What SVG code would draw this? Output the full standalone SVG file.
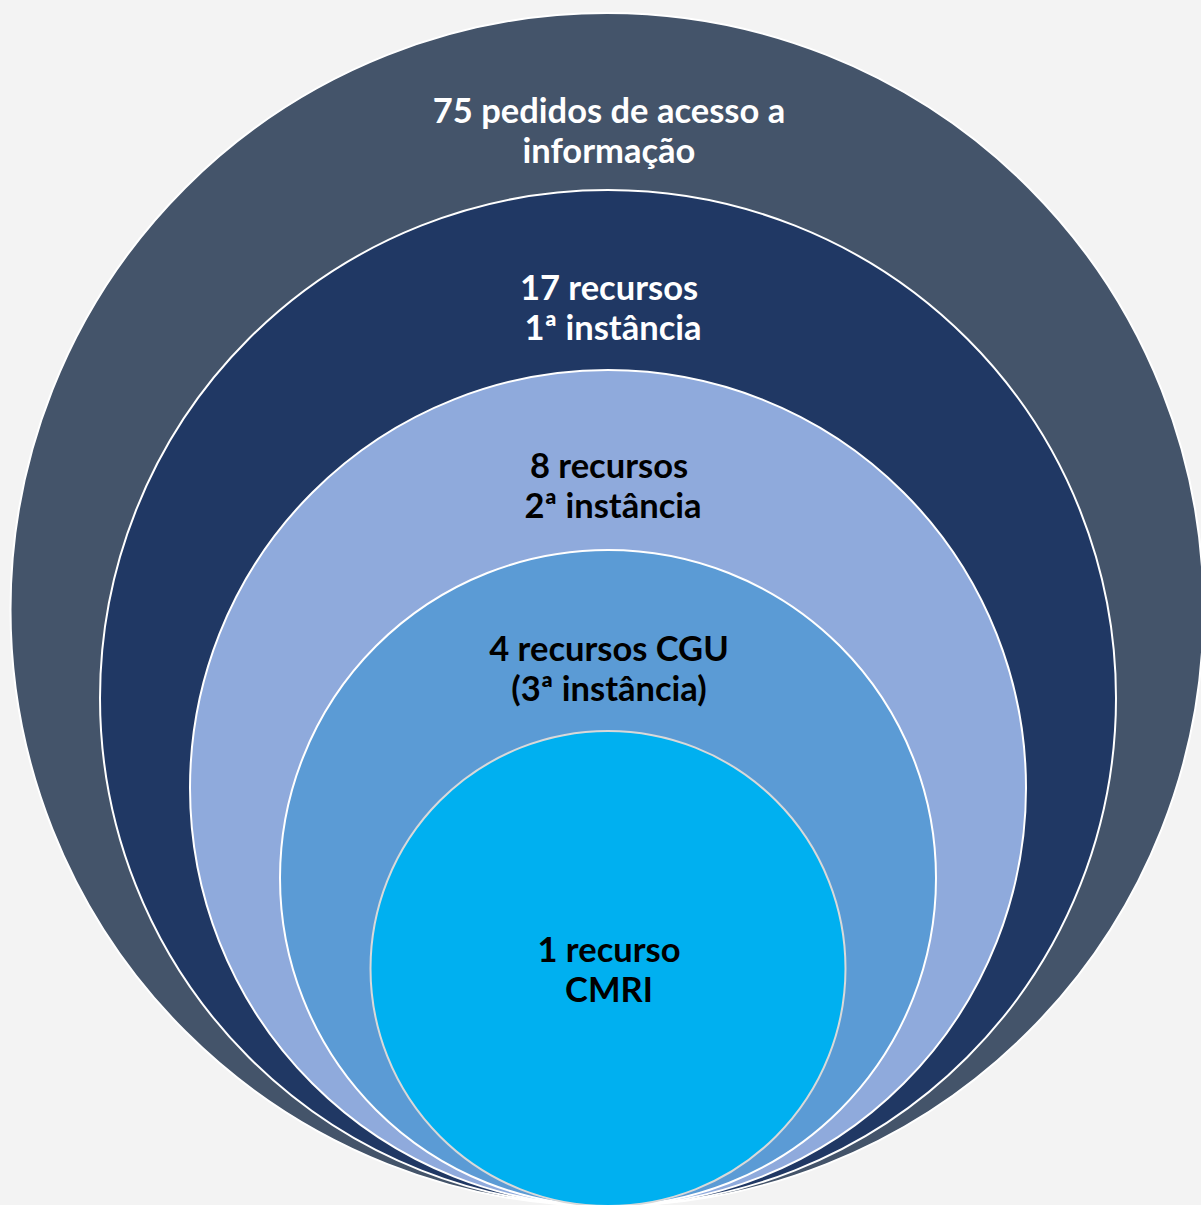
<svg xmlns="http://www.w3.org/2000/svg" width="1201" height="1205" viewBox="0 0 1201 1205">
<style>
.c{stroke:#ffffff;stroke-width:2}
.t{font-family:"Lato","Open Sans","Liberation Sans",sans-serif;font-weight:bold;font-size:34.5px;text-anchor:middle}
.w{fill:#ffffff}
.k{fill:#000000}
</style>
<rect width="1201" height="1205" fill="#f3f3f3"/>
<g id="n1"><circle class="c" cx="607" cy="609.5" r="596.5" fill="#44546a"/></g>
<g id="n2"><circle class="c" cx="608" cy="698" r="508" fill="#203864"/></g>
<g id="n3"><circle class="c" cx="608" cy="788" r="418" fill="#8faadc"/></g>
<g id="n4"><circle class="c" cx="608" cy="878" r="328" fill="#5b9bd5"/></g>
<g id="n5"><circle cx="608" cy="968.5" r="237.5" fill="#00b0f0" stroke="#d9d9d9" stroke-width="2"/></g>
<g id="labels">
<text class="t w" x="609" y="123">75 pedidos de acesso a</text>
<text class="t w" x="609" y="163">informação</text>
<text class="t w" x="609" y="300">17 recursos</text>
<text class="t w" x="613" y="340">1ª instância</text>
<text class="t k" x="609" y="478">8 recursos</text>
<text class="t k" x="613" y="518">2ª instância</text>
<text class="t k" x="609" y="661">4 recursos CGU</text>
<text class="t k" x="609" y="701">(3ª instância)</text>
<text class="t k" x="609" y="962">1 recurso</text>
<text class="t k" x="609" y="1002">CMRI</text>
</g>
<g id="connectors"></g>
</svg>
